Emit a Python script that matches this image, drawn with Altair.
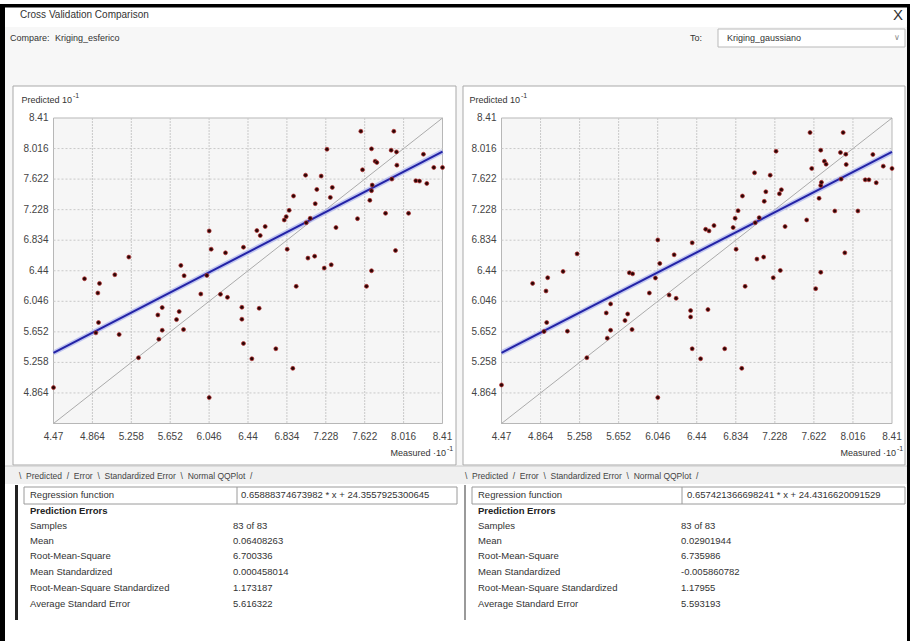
import altair as alt
import pandas as pd

# ---------------- data (display units, x 10^-1) ----------------
measured = [4.470, 4.784, 4.936, 4.919, 4.926, 4.899, 5.091, 5.135, 5.233, 5.331,
            5.527, 5.571, 5.571, 5.537, 5.716, 5.743, 5.787, 5.760, 5.793, 5.962,
            6.023, 6.047, 6.067, 6.047, 6.212, 6.161, 6.232, 6.394, 6.378, 6.378,
            6.394, 6.553, 6.479, 6.722, 6.894, 6.928, 6.837, 6.530, 6.564, 6.614,
            6.807, 6.827, 6.857, 6.901, 7.023, 7.137, 7.181, 7.121, 7.070, 7.030,
            7.047, 7.115, 7.212, 7.283, 7.240, 7.274, 7.294, 7.331, 7.549, 7.583,
            7.600, 7.640, 7.691, 7.674, 7.691, 7.698, 7.691, 7.728, 7.745, 7.833,
            7.917, 7.890, 7.944, 7.948, 7.897, 7.934, 8.066, 8.140, 8.177, 8.251,
            8.217, 8.322, 8.410]
pred_esferico = [4.933, 6.337, 6.277, 6.153, 5.772, 5.639, 6.389, 5.618, 6.616, 5.318,
                 5.870, 5.965, 5.673, 5.558, 5.810, 5.913, 5.682, 6.509, 6.376, 6.140,
                 6.380, 6.954, 6.718, 4.804, 6.671, 6.136, 6.097, 6.744, 5.969, 5.815,
                 5.502, 5.956, 5.305, 5.434, 5.181, 6.239, 6.718, 6.958, 6.894, 7.010,
                 7.095, 7.138, 7.219, 7.404, 7.673, 7.489, 7.661, 7.305, 7.117, 7.060,
                 6.603, 6.628, 6.474, 6.517, 8.007, 7.386, 7.515, 6.997, 7.112, 8.239,
                 7.742, 6.239, 6.440, 7.348, 7.472, 7.545, 8.012, 7.853, 7.836, 7.181,
                 8.239, 7.995, 7.973, 7.802, 7.622, 6.701, 7.181, 7.601, 7.596, 7.566,
                 7.943, 7.772, 7.772]
pred_gaussiano = [4.967, 6.277, 6.350, 6.179, 5.772, 5.656, 6.431, 5.661, 6.658, 5.318,
                  5.896, 6.012, 5.673, 5.571, 5.798, 5.883, 5.682, 6.414, 6.400, 6.153,
                  6.346, 6.838, 6.534, 4.804, 6.646, 6.127, 6.085, 6.800, 5.926, 5.845,
                  5.434, 5.939, 5.305, 5.434, 5.181, 6.239, 6.718, 6.975, 6.954, 7.022,
                  6.997, 7.117, 7.215, 7.404, 7.703, 7.459, 7.673, 7.335, 7.125, 7.060,
                  6.590, 6.616, 6.350, 6.444, 7.982, 7.433, 7.485, 7.010, 7.095, 8.222,
                  7.759, 6.209, 6.420, 7.374, 7.540, 7.580, 7.995, 7.853, 7.815, 7.211,
                  8.222, 7.965, 7.943, 7.810, 7.622, 6.671, 7.211, 7.613, 7.613, 7.575,
                  7.939, 7.789, 7.759]
tick_values = [4.47, 4.864, 5.258, 5.652, 6.046, 6.44, 6.834, 7.228, 7.622, 8.016, 8.41]
tick_labels = ["4.47", "4.864", "5.258", "5.652", "6.046", "6.44", "6.834", "7.228",
               "7.622", "8.016", "8.41"]
reg_esferico = (0.65888374673982, 24.3557925300645)
reg_gaussiano = (0.657421366698241, 24.4316620091529)
reg_text = ["0.65888374673982 * x + 24.3557925300645",
            "0.657421366698241 * x + 24.4316620091529"]
stat_names = ["Samples", "Mean", "Root-Mean-Square", "Mean Standardized",
              "Root-Mean-Square Standardized", "Average Standard Error"]
stats_esferico = ["83 of 83", "0.06408263", "6.700336", "0.000458014", "1.173187", "5.616322"]
stats_gaussiano = ["83 of 83", "0.02901944", "6.735986", "-0.005860782", "1.17955", "5.593193"]
_sp = "\u00a0 "
tab_strip = _sp.join(["\\", "Predicted", "/", "Error", "\\", "Standardized Error", "\\",
                      "Normal QQPlot", "/"])

FONT = "Liberation Sans"
W, H = 910, 641
PY0, PY1 = 118, 423.5          # plot top / bottom (pixels)
LEFT_X = (53.5, 442.5)
RIGHT_X = (501.5, 892)
DMIN, DMAX = 4.47, 8.41


def px(v):
    return alt.X(v, scale=None, axis=None)


def py(v):
    return alt.Y(v, scale=None, axis=None)


# ---------------- dialog chrome (layout) ----------------
rects = [
    # x, x2, y, y2, fill, stroke, sw
    (0, W, 0, H, "#ffffff", "none", 0),
    (0, W, 4, 7.5, "#000000", "none", 0),
    (0, 5, 4, H, "#000000", "none", 0),
    (907, W, 4, H, "#000000", "none", 0),
    (5, 907, 27, 484, "#f7f7f7", "none", 0),
    (718, 905, 29, 47, "#ffffff", "#b9b9b9", 1),
    (13, 456, 86, 465, "#ffffff", "#a9a9a9", 1),
    (463, 905, 86, 465, "#ffffff", "#a9a9a9", 1),
    (LEFT_X[0], LEFT_X[1], PY0, PY1, "#f6f6f6", "#b7b7b7", 1),
    (RIGHT_X[0], RIGHT_X[1], PY0, PY1, "#f6f6f6", "#b7b7b7", 1),
    (5, 907, 466, 484, "#f0f0f0", "none", 0),
    (24, 457, 487, 504, "#ffffff", "#9a9a9a", 1),
    (472, 905, 487, 504, "#ffffff", "#9a9a9a", 1),
    (15, 18, 485, 620, "#222222", "none", 0),
    (464, 466, 485, 620, "#9a9a9a", "none", 0),
]
rect_df = pd.DataFrame(rects, columns=["x", "x2", "y", "y2", "fill", "stroke", "sw"])
chrome_rects = alt.Chart(rect_df).mark_rect().encode(
    x=px("x:Q"), x2="x2:Q", y=py("y:Q"), y2="y2:Q",
    fill=alt.Fill("fill:N", scale=None),
    stroke=alt.Stroke("stroke:N", scale=None),
    strokeWidth=alt.StrokeWidth("sw:Q", scale=None),
)

lines = [
    (237, 237, 487, 504, "#9a9a9a"),
    (682, 682, 487, 504, "#9a9a9a"),
    (5, 907, 466, 466, "#c8c8c8"),
]
line_df = pd.DataFrame(lines, columns=["x", "x2", "y", "y2", "c"])
chrome_lines = alt.Chart(line_df).mark_rule(strokeWidth=1).encode(
    x=px("x:Q"), x2="x2:Q", y=py("y:Q"), y2="y2:Q",
    color=alt.Color("c:N", scale=None),
)

texts = [
    # x, y, text, size, color
    (20, 15, "Cross Validation Comparison", 10, "#333333"),
    (10, 38, "Compare:", 9, "#333333"),
    (55, 38, "Kriging_esferico", 9, "#333333"),
    (690, 38, "To:", 9, "#333333"),
    (727, 38, "Kriging_gaussiano", 9, "#333333"),
    (73, 96, "-1", 7, "#333333"),
    (521, 96, "-1", 7, "#333333"),
    (447, 449, "-1", 7, "#333333"),
    (897, 449, "-1", 7, "#333333"),
    (19, 476, tab_strip, 8.5, "#444444"),
    (465, 476, tab_strip, 8.5, "#444444"),
    (30, 495, "Regression function", 9.5, "#333333"),
    (241, 495, reg_text[0], 9.5, "#333333"),
    (478, 495, "Regression function", 9.5, "#333333"),
    (687, 495, reg_text[1], 9.5, "#333333"),
]
row_y = [526, 541, 556, 572, 588, 604]
for i, n in enumerate(stat_names):
    texts.append((30, row_y[i], n, 9.5, "#333333"))
    texts.append((233, row_y[i], stats_esferico[i], 9.5, "#333333"))
    texts.append((478, row_y[i], n, 9.5, "#333333"))
    texts.append((681, row_y[i], stats_gaussiano[i], 9.5, "#333333"))
text_df = pd.DataFrame(texts, columns=["x", "y", "t", "s", "c"])
chrome_text = alt.Chart(text_df).mark_text(align="left", baseline="middle", font=FONT).encode(
    x=px("x:Q"), y=py("y:Q"), text="t:N",
    size=alt.Size("s:Q", scale=None),
    color=alt.Color("c:N", scale=None),
)

# axis titles: right-aligned so that the superscript follows them
rtexts = pd.DataFrame({
    "x": [72, 520, 446, 896],
    "y": [100, 100, 453, 453],
    "t": ["Predicted 10", "Predicted 10", "Measured \u00b710", "Measured \u00b710"],
})
chrome_rtext = alt.Chart(rtexts).mark_text(
    align="right", baseline="middle", font=FONT, fontSize=9, color="#333333"
).encode(x=px("x:Q"), y=py("y:Q"), text="t:N")

bold_df = pd.DataFrame({"x": [30, 478], "y": [511, 511], "t": ["Prediction Errors"] * 2})
chrome_bold = alt.Chart(bold_df).mark_text(
    align="left", baseline="middle", font=FONT, fontWeight="bold", fontSize=9.5, color="#222222"
).encode(x=px("x:Q"), y=py("y:Q"), text="t:N")

close_df = pd.DataFrame({"x": [898], "y": [15], "t": ["X"]})
chrome_close = alt.Chart(close_df).mark_text(
    align="center", baseline="middle", font=FONT, fontSize=15, color="#333333"
).encode(x=px("x:Q"), y=py("y:Q"), text="t:N")

chev_df = pd.DataFrame({"x": [897], "y": [38], "t": ["\u2228"]})
chrome_chev = alt.Chart(chev_df).mark_text(
    align="center", baseline="middle", font="DejaVu Sans", fontSize=8, color="#888888"
).encode(x=px("x:Q"), y=py("y:Q"), text="t:N")


# ---------------- scatter panels ----------------
def panel(xr, pred, reg):
    sx = alt.Scale(domain=[DMIN, DMAX], range=[xr[0], xr[1]], nice=False, zero=False)
    sy = alt.Scale(domain=[DMIN, DMAX], range=[PY1, PY0], nice=False, zero=False)
    ticks = pd.DataFrame({"t": tick_values, "lab": tick_labels})
    inner = pd.DataFrame({"t": tick_values[1:-1]})
    vgrid = alt.Chart(inner).mark_rule(color="#c9c9c9", strokeWidth=1, strokeDash=[2, 1]).encode(
        x=alt.X("t:Q", scale=sx, axis=None), y=alt.value(PY0), y2=alt.value(PY1))
    hgrid = alt.Chart(inner).mark_rule(color="#c9c9c9", strokeWidth=1, strokeDash=[2, 2]).encode(
        y=alt.Y("t:Q", scale=sy, axis=None), x=alt.value(xr[0]), x2=alt.value(xr[1]))
    xlab = alt.Chart(ticks).mark_text(baseline="middle", align="center", font=FONT,
                                      fontSize=10, color="#444444").encode(
        x=alt.X("t:Q", scale=sx, axis=None), y=alt.value(437), text="lab:N")
    ylab = alt.Chart(ticks[ticks.t > DMIN]).mark_text(baseline="middle", align="right", font=FONT,
                                                      fontSize=10, color="#444444").encode(
        y=alt.Y("t:Q", scale=sy, axis=None), x=alt.value(xr[0] - 5), text="lab:N")
    ends = pd.DataFrame({"v": [DMIN, DMAX]})
    diag = alt.Chart(ends).mark_line(color="#ababab", strokeWidth=1).encode(
        x=alt.X("v:Q", scale=sx, axis=None), y=alt.Y("v:Q", scale=sy, axis=None))
    reg_base = alt.Chart(ends).transform_calculate(p=f"{reg[0]} * datum.v + {reg[1]} / 10")
    halo = reg_base.mark_line(color="#a9b0ee", strokeWidth=5, opacity=0.7).encode(
        x=alt.X("v:Q", scale=sx, axis=None), y=alt.Y("p:Q", scale=sy, axis=None))
    regl = reg_base.mark_line(color="#2323a6", strokeWidth=2).encode(
        x=alt.X("v:Q", scale=sx, axis=None), y=alt.Y("p:Q", scale=sy, axis=None))
    pts = alt.Chart(pd.DataFrame({"m": measured, "p": pred})).mark_point(
        filled=True, fill="#2a0505", stroke="#b83030", strokeWidth=0.7, size=16, opacity=1
    ).encode(x=alt.X("m:Q", scale=sx, axis=None), y=alt.Y("p:Q", scale=sy, axis=None))
    return alt.layer(vgrid, hgrid, diag, halo, regl, pts, xlab, ylab)


left = panel(LEFT_X, pred_esferico, reg_esferico)
right = panel(RIGHT_X, pred_gaussiano, reg_gaussiano)

chart = alt.layer(
    chrome_rects, chrome_lines, chrome_text, chrome_rtext, chrome_bold, chrome_close,
    chrome_chev, left, right
).resolve_scale(x="independent", y="independent").properties(
    width=W, height=H, padding=0, autosize=alt.AutoSizeParams(type="none"),
    background="#ffffff",
).configure_view(stroke=None)

chart.save("out.html", embed_options={"renderer": "svg", "actions": False})
